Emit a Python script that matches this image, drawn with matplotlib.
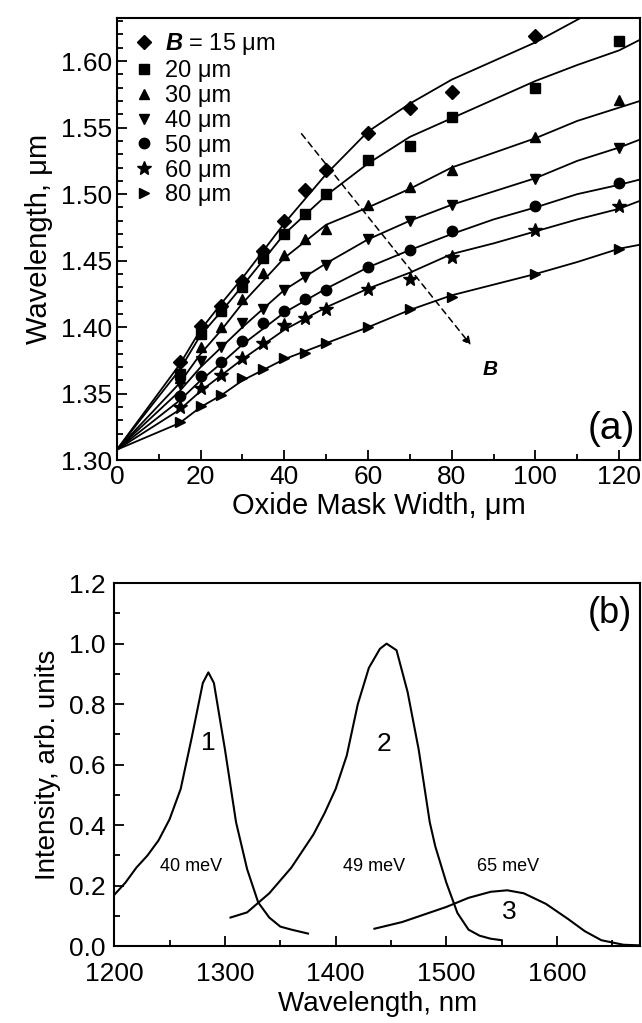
import matplotlib.pyplot as plt
from matplotlib.ticker import MultipleLocator, FormatStrFormatter

plt.rcParams['font.family'] = ['Liberation Sans', 'DejaVu Sans']
plt.rcParams['mathtext.fontset'] = 'custom'
plt.rcParams['mathtext.it'] = 'Liberation Sans:italic:bold'

# ---- panel (a): measured points ----
mask_x = [15, 20, 25, 30, 35, 40, 45, 50, 60, 70, 80, 100, 120]
widths = ['15', '20', '30', '40', '50', '60', '80']
markers = ['D', 's', '^', 'v', 'o', '*', '>']
pts = {
    '15': [1.374, 1.401, 1.416, 1.435, 1.457, 1.480, 1.503, 1.518, 1.546, 1.565, 1.577, 1.619, None],
    '20': [1.365, 1.395, 1.412, 1.430, 1.452, 1.470, 1.485, 1.500, 1.526, 1.536, 1.558, 1.580, 1.615],
    '30': [1.362, 1.385, 1.400, 1.421, 1.441, 1.454, 1.466, 1.474, 1.492, 1.505, 1.518, 1.543, 1.571],
    '40': [1.357, 1.375, 1.385, 1.403, 1.414, 1.428, 1.438, 1.447, 1.466, 1.480, 1.492, 1.511, 1.535],
    '50': [1.348, 1.363, 1.374, 1.390, 1.403, 1.412, 1.421, 1.428, 1.445, 1.458, 1.472, 1.491, 1.508],
    '60': [1.340, 1.354, 1.364, 1.377, 1.388, 1.402, 1.407, 1.414, 1.429, 1.436, 1.453, 1.473, 1.491],
    '80': [1.329, 1.341, 1.349, 1.362, 1.369, 1.377, 1.381, 1.388, 1.400, 1.414, 1.423, 1.440, 1.459],
}

# ---- panel (a): fitted curves ----
fit_x = [0, 15, 20, 25, 30, 40, 50, 60, 70, 80, 90, 100, 110, 120, 125]
fits = {
    '15': [1.308, 1.372, 1.398, 1.418, 1.437, 1.478, 1.515, 1.547, 1.568, 1.586, 1.600, 1.614, 1.631, 1.648, 1.656],
    '20': [1.308, 1.368, 1.394, 1.412, 1.431, 1.470, 1.499, 1.523, 1.543, 1.557, 1.571, 1.585, 1.597, 1.608, 1.616],
    '30': [1.308, 1.358, 1.380, 1.398, 1.418, 1.452, 1.477, 1.490, 1.504, 1.520, 1.531, 1.542, 1.555, 1.565, 1.570],
    '40': [1.308, 1.352, 1.370, 1.385, 1.400, 1.428, 1.448, 1.466, 1.480, 1.492, 1.502, 1.512, 1.525, 1.535, 1.541],
    '50': [1.308, 1.345, 1.360, 1.373, 1.387, 1.411, 1.429, 1.445, 1.458, 1.470, 1.481, 1.490, 1.500, 1.507, 1.511],
    '60': [1.308, 1.338, 1.352, 1.364, 1.376, 1.398, 1.415, 1.429, 1.441, 1.455, 1.463, 1.472, 1.481, 1.489, 1.495],
    '80': [1.308, 1.328, 1.340, 1.349, 1.360, 1.376, 1.388, 1.400, 1.413, 1.424, 1.432, 1.440, 1.449, 1.459, 1.462],
}

# ---- panel (b): spectra ----
wl1 = [1200, 1210, 1220, 1230, 1240, 1250, 1260, 1270, 1280, 1285, 1290, 1300, 1310, 1320, 1330, 1340, 1350,
       1360, 1375]
int1 = [0.17, 0.21, 0.26, 0.30, 0.35, 0.42, 0.52, 0.69, 0.87, 0.905, 0.87, 0.65, 0.41, 0.255, 0.145, 0.095,
        0.065, 0.055, 0.042]
wl2 = [1305, 1320, 1340, 1360, 1380, 1390, 1400, 1410, 1420, 1430, 1440, 1446, 1455, 1465, 1475, 1485, 1490,
       1500, 1510, 1520, 1530, 1540, 1550]
int2 = [0.095, 0.112, 0.175, 0.26, 0.37, 0.44, 0.52, 0.63, 0.80, 0.92, 0.983, 1.0, 0.978, 0.84, 0.65, 0.41, 0.33,
        0.21, 0.11, 0.055, 0.035, 0.025, 0.02]
wl3 = [1435, 1460, 1480, 1500, 1520, 1540, 1555, 1570, 1590, 1610, 1625, 1640, 1660, 1675]
int3 = [0.058, 0.08, 0.105, 0.13, 0.16, 0.18, 0.185, 0.175, 0.14, 0.09, 0.05, 0.02, 0.005, 0.003]

fig = plt.figure(figsize=(6.42, 10.23), dpi=100)
ax1 = fig.add_axes([0.182, 0.55, 0.815, 0.432])
ax2 = fig.add_axes([0.178, 0.075, 0.819, 0.355])

for w, m in zip(widths, markers):
    ax1.plot(fit_x, fits[w], color='black', lw=1.3)
    xs = [x for x, y in zip(mask_x, pts[w]) if y is not None]
    ys = [y for y in pts[w] if y is not None]
    ms = 10 if m == '*' else (7 if m == 'D' else 7.5)
    lab = r'$\mathit{B}$ = 15 μm' if w == '15' else w + ' μm'
    ax1.plot(xs, ys, ls='none', marker=m, ms=ms, color='black', label=lab)

ax1.annotate('', xy=(85, 1.385), xytext=(43.7, 1.547),
             arrowprops=dict(arrowstyle='-|>', ls=(0, (4, 3)), lw=1.1, color='black', mutation_scale=12))
ax1.text(89.3, 1.368, 'B', fontsize=15, fontweight='bold', fontstyle='italic', ha='center', va='center')
ax1.text(0.99, 0.03, '(a)', transform=ax1.transAxes, fontsize=28, ha='right', va='bottom')

ax1.legend(loc='upper left', frameon=False, fontsize=17, handletextpad=0.3, labelspacing=0.12,
           borderaxespad=0.15, handlelength=1.2)
ax1.set_xlim(0, 125)
ax1.set_ylim(1.30, 1.632)
ax1.xaxis.set_major_locator(MultipleLocator(20))
ax1.xaxis.set_minor_locator(MultipleLocator(10))
ax1.yaxis.set_major_locator(MultipleLocator(0.05))
ax1.yaxis.set_minor_locator(MultipleLocator(0.01))
ax1.yaxis.set_major_formatter(FormatStrFormatter('%.2f'))
ax1.set_xlabel('Oxide Mask Width, μm', fontsize=21, labelpad=2)
ax1.set_ylabel('Wavelength, μm', fontsize=21, labelpad=6)

ax2.plot(wl1, int1, color='black', lw=1.5)
ax2.plot(wl2, int2, color='black', lw=1.5)
ax2.plot(wl3, int3, color='black', lw=1.5)
ax2.text(1285, 0.673, '1', fontsize=19, ha='center', va='center')
ax2.text(1444, 0.668, '2', fontsize=19, ha='center', va='center')
ax2.text(1557, 0.113, '3', fontsize=19, ha='center', va='center')
ax2.text(1269, 0.263, '40 meV', fontsize=13, ha='center', va='center')
ax2.text(1435, 0.263, '49 meV', fontsize=13, ha='center', va='center')
ax2.text(1556, 0.263, '65 meV', fontsize=13, ha='center', va='center')
ax2.text(0.985, 0.965, '(b)', transform=ax2.transAxes, fontsize=26, ha='right', va='top')
ax2.set_xlim(1200, 1675)
ax2.set_ylim(0, 1.2)
ax2.xaxis.set_major_locator(MultipleLocator(100))
ax2.xaxis.set_minor_locator(MultipleLocator(50))
ax2.yaxis.set_major_locator(MultipleLocator(0.2))
ax2.yaxis.set_minor_locator(MultipleLocator(0.1))
ax2.yaxis.set_major_formatter(FormatStrFormatter('%.1f'))
ax2.set_xlabel('Wavelength, nm', fontsize=20, labelpad=4)
ax2.set_ylabel('Intensity, arb. units', fontsize=20, labelpad=6)

for ax in (ax1, ax2):
    for s in ax.spines.values():
        s.set_linewidth(1.5)
    ax.tick_params(which='both', direction='in', top=False, right=False, labelsize=19, width=1.3)
    ax.tick_params(which='major', length=7)
    ax.tick_params(which='minor', length=4)
ax2.tick_params(axis='x', pad=11)
ax2.tick_params(axis='y', pad=6)

fig.savefig('out.png', dpi=100)
